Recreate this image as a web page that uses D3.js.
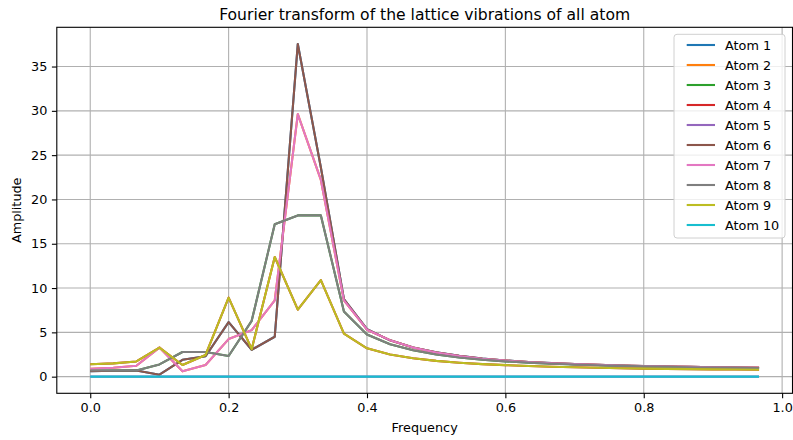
<!DOCTYPE html>
<html>
<head>
<meta charset="utf-8">
<script src="https://cdn.jsdelivr.net/npm/d3@7"></script>
<style>
  html, body { margin: 0; padding: 0; background: #ffffff; }
  svg { display: block; font-family: "DejaVu Sans", sans-serif; }
</style>
</head>
<body>
<svg id="chart" width="793" height="440"></svg>
<script>
// ---------- data ----------
const frequency = d3.range(30).map(i => i / 30);   // 0, 1/30, ..., 29/30 (sample grid)

const atom6 = [0.63, 0.67, 0.70, 0.22, 1.90, 2.30, 6.15, 3.04, 4.50, 37.55, 23.60, 8.75,
               5.35, 4.10, 3.30, 2.75, 2.35, 2.05, 1.83, 1.66, 1.53, 1.42, 1.33, 1.26,
               1.20, 1.15, 1.11, 1.07, 1.04, 1.01];
const atom7 = [0.90, 1.00, 1.23, 3.28, 0.60, 1.32, 4.24, 5.25, 8.60, 29.63, 22.20, 8.60,
               5.30, 4.12, 3.28, 2.73, 2.33, 2.03, 1.82, 1.65, 1.52, 1.42, 1.33, 1.26,
               1.20, 1.15, 1.11, 1.07, 1.04, 1.02];
const atom8 = [0.70, 0.70, 0.70, 1.38, 2.78, 2.78, 2.33, 6.30, 17.20, 18.20, 18.20, 7.35,
               4.75, 3.66, 2.98, 2.50, 2.17, 1.92, 1.73, 1.58, 1.46, 1.37, 1.29, 1.22,
               1.16, 1.11, 1.07, 1.03, 1.00, 0.97];
const atom9 = [1.40, 1.50, 1.72, 3.28, 1.32, 2.45, 8.92, 3.10, 13.50, 7.56, 10.90, 4.86,
               3.20, 2.50, 2.07, 1.78, 1.57, 1.41, 1.30, 1.20, 1.12, 1.06, 1.00, 0.95,
               0.91, 0.88, 0.85, 0.82, 0.80, 0.78];
const atom10 = [0, 0, 0, 0, 0, 0, 0, 0, 0, 0, 0, 0, 0, 0, 0,
                0, 0, 0, 0, 0, 0, 0, 0, 0, 0, 0, 0, 0, 0, 0];
// atoms 1-5 coincide with atoms 6-10 (hidden beneath them in the picture)
const atom1 = atom6.slice();
const atom2 = atom7.slice();
const atom3 = atom8.slice();
const atom4 = atom9.slice();
const atom5 = atom10.slice();

const seriesNames = ["Atom 1","Atom 2","Atom 3","Atom 4","Atom 5","Atom 6","Atom 7","Atom 8","Atom 9","Atom 10"];
const seriesValues = [atom1, atom2, atom3, atom4, atom5, atom6, atom7, atom8, atom9, atom10];
const xTicks = [0.0, 0.2, 0.4, 0.6, 0.8, 1.0];
const yTicks = [0, 5, 10, 15, 20, 25, 30, 35];
const colors = ["#1f77b4","#ff7f0e","#2ca02c","#d62728","#9467bd","#8c564b","#e377c2","#7f7f7f","#bcbd22","#17becf"];

const titleText = "Fourier transform of the lattice vibrations of all atom";
const xLabel = "Frequency";
const yLabel = "Amplitude";

// ---------- layout ----------
const svg = d3.select("#chart");
const L = 56.8, R = 792.5, T = 27.3, B = 393.3;

const xMin = d3.min(frequency), xMax = d3.max(frequency);
const xPad = (xMax - xMin) * 0.05;
const yMax = d3.max(seriesValues.flat()), yMin = 0;
const yPad = (yMax - yMin) * 0.05;

const x = d3.scaleLinear().domain([xMin - xPad, xMax + xPad]).range([L, R]);
const y = d3.scaleLinear().domain([yMin - yPad, yMax + yPad]).range([B, T]);

// grid
const grid = svg.append("g");
grid.selectAll("line.gx").data(xTicks).enter().append("line")
  .attr("x1", d => x(d)).attr("x2", d => x(d)).attr("y1", T).attr("y2", B)
  .attr("stroke", "#b0b0b0").attr("stroke-width", 1.1);
grid.selectAll("line.gy").data(yTicks).enter().append("line")
  .attr("x1", L).attr("x2", R).attr("y1", d => y(d)).attr("y2", d => y(d))
  .attr("stroke", "#b0b0b0").attr("stroke-width", 1.1);

// lines
const line = d3.line().x((d, i) => x(frequency[i])).y(d => y(d));
svg.append("clipPath").attr("id", "clip").append("rect")
  .attr("x", L).attr("y", T).attr("width", R - L).attr("height", B - T);
svg.append("g").attr("clip-path", "url(#clip)")
  .selectAll("path").data(seriesValues).enter().append("path")
  .attr("d", d => line(d)).attr("fill", "none")
  .attr("stroke", (d, i) => colors[i]).attr("stroke-width", 2.1)
  .attr("stroke-linejoin", "round").attr("stroke-linecap", "butt");

// axes
const xAxis = d3.axisBottom(x).tickValues(xTicks).tickFormat(d3.format(".1f")).tickSizeOuter(0).tickSize(4.9).tickPadding(4.5);
const yAxis = d3.axisLeft(y).tickValues(yTicks).tickFormat(d3.format("d")).tickSizeOuter(0).tickSize(4.9).tickPadding(4.5);
const gx = svg.append("g").attr("transform", `translate(0,${B})`).call(xAxis);
const gy = svg.append("g").attr("transform", `translate(${L},0)`).call(yAxis);
[gx, gy].forEach(g => {
  g.select(".domain").remove();
  g.selectAll(".tick line").attr("stroke", "#000").attr("stroke-width", 1.1);
  g.selectAll(".tick text").attr("fill", "#000").attr("font-family", "DejaVu Sans")
    .attr("font-size", 12.8);
});

// spines
svg.append("rect").attr("x", L).attr("y", T).attr("width", R - L).attr("height", B - T)
  .attr("fill", "none").attr("stroke", "#000").attr("stroke-width", 1.1);

// title and labels
svg.append("text").attr("x", (L + R) / 2).attr("y", 19.5).attr("text-anchor", "middle")
  .attr("font-size", 15.6).attr("fill", "#000").text(titleText);
svg.append("text").attr("x", (L + R) / 2).attr("y", 432).attr("text-anchor", "middle")
  .attr("font-size", 12.8).attr("fill", "#000").text(xLabel);
svg.append("text").attr("transform", `translate(20.5,${(T + B) / 2}) rotate(-90)`)
  .attr("text-anchor", "middle").attr("font-size", 12.8).attr("fill", "#000").text(yLabel);

// legend
const lg = svg.append("g");
const lgX = 674, lgY = 34.3, lgW = 111, lgH = 203.7;
lg.append("rect").attr("x", lgX).attr("y", lgY).attr("width", lgW).attr("height", lgH)
  .attr("rx", 3).attr("fill", "#ffffff").attr("fill-opacity", 0.8)
  .attr("stroke", "#d0d0d0").attr("stroke-width", 1);
const items = lg.selectAll("g.item").data(seriesNames).enter().append("g")
  .attr("transform", (d, i) => `translate(0,${45 + i * 20})`);
items.append("line").attr("x1", 686.7).attr("x2", 715).attr("y1", 0).attr("y2", 0)
  .attr("stroke", (d, i) => colors[i]).attr("stroke-width", 2.1);
items.append("text").attr("x", 725).attr("y", 4.6).attr("font-size", 12.8)
  .attr("fill", "#000").text(d => d);
</script>
</body>
</html>
